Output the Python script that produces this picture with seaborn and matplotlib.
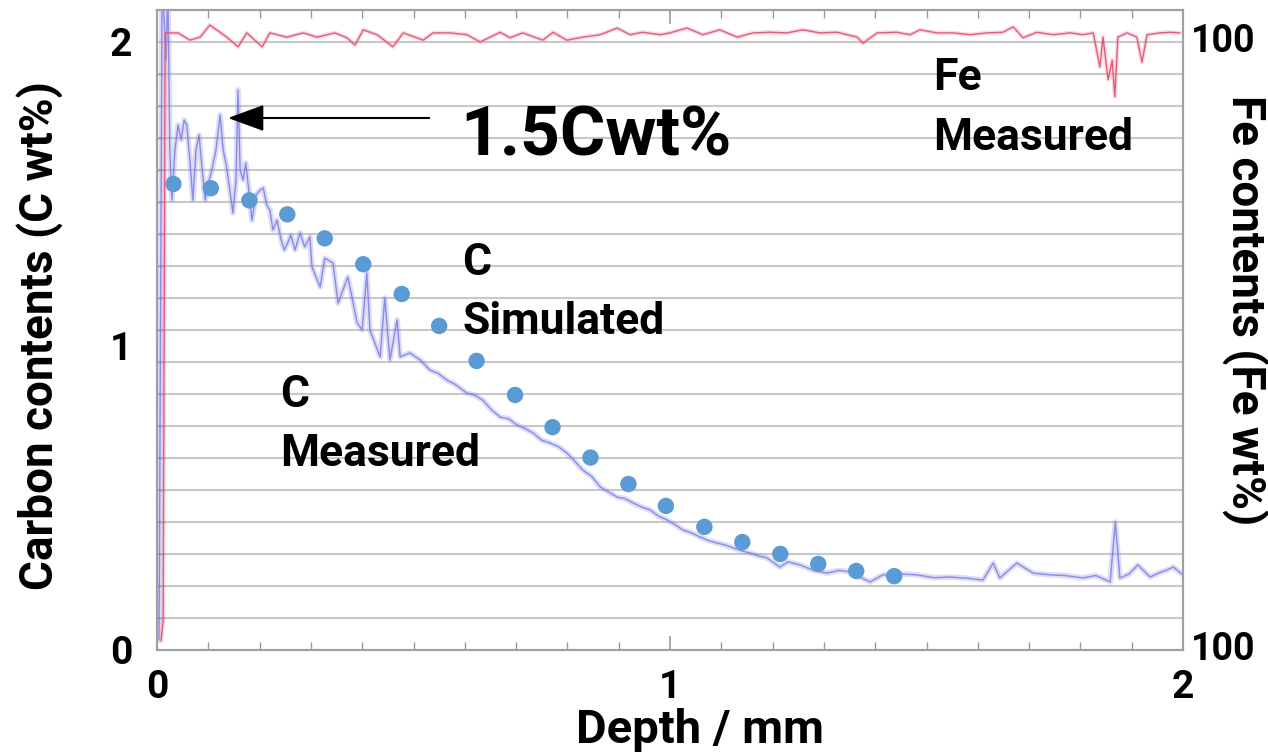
import numpy as np
import pandas as pd
import matplotlib
matplotlib.use("Agg")
import matplotlib.pyplot as plt
import seaborn as sns

# C measured (depth mm, C wt%)
c_meas_depth = [0.004, 0.010, 0.018, 0.021, 0.025, 0.029, 0.035, 0.041, 0.047, 0.053, 0.058, 0.064,
                0.070, 0.076, 0.082, 0.088, 0.094, 0.099, 0.107, 0.115, 0.123, 0.129, 0.135, 0.142,
                0.148, 0.154, 0.158, 0.162, 0.168, 0.173, 0.179, 0.185, 0.193, 0.201, 0.207, 0.214,
                0.220, 0.226, 0.234, 0.242, 0.248, 0.253, 0.261, 0.269, 0.279, 0.288, 0.298, 0.302,
                0.318, 0.327, 0.343, 0.353, 0.372, 0.380, 0.390, 0.400, 0.409, 0.415, 0.435, 0.444,
                0.454, 0.468, 0.474, 0.493, 0.513, 0.532, 0.548, 0.565, 0.580, 0.596, 0.604, 0.620,
                0.635, 0.652, 0.669, 0.686, 0.702, 0.718, 0.733, 0.750, 0.766, 0.783, 0.799, 0.815,
                0.830, 0.848, 0.864, 0.880, 0.897, 0.912, 0.928, 0.945, 0.961, 0.978, 0.994, 1.010,
                1.025, 1.042, 1.058, 1.075, 1.092, 1.108, 1.123, 1.140, 1.156, 1.172, 1.189, 1.214,
                1.230, 1.253, 1.280, 1.306, 1.330, 1.351, 1.370, 1.390, 1.415, 1.450, 1.481, 1.515,
                1.546, 1.580, 1.610, 1.630, 1.643, 1.676, 1.708, 1.741, 1.770, 1.805, 1.830, 1.858,
                1.868, 1.877, 1.895, 1.912, 1.936, 1.955, 1.969, 1.981, 2.000]
c_meas_wt = [0.033, 2.200, 1.941, 2.200, 1.645, 1.480, 1.645, 1.727, 1.678, 1.743, 1.727, 1.612,
             1.480, 1.645, 1.694, 1.579, 1.480, 1.530, 1.579, 1.645, 1.760, 1.645, 1.595, 1.513,
             1.438, 1.546, 1.842, 1.579, 1.546, 1.602, 1.513, 1.414, 1.497, 1.513, 1.520, 1.464,
             1.447, 1.382, 1.414, 1.349, 1.316, 1.332, 1.365, 1.316, 1.372, 1.326, 1.359, 1.260,
             1.194, 1.289, 1.273, 1.141, 1.227, 1.161, 1.076, 1.053, 1.240, 1.053, 0.964, 1.158,
             0.954, 1.086, 0.964, 0.977, 0.954, 0.921, 0.910, 0.888, 0.875, 0.855, 0.845, 0.838,
             0.822, 0.790, 0.766, 0.760, 0.740, 0.728, 0.714, 0.690, 0.681, 0.668, 0.648, 0.620,
             0.592, 0.570, 0.536, 0.520, 0.503, 0.498, 0.484, 0.470, 0.461, 0.440, 0.428, 0.412,
             0.395, 0.385, 0.372, 0.360, 0.352, 0.345, 0.336, 0.326, 0.319, 0.310, 0.303, 0.273,
             0.290, 0.280, 0.262, 0.253, 0.262, 0.257, 0.240, 0.224, 0.247, 0.250, 0.247, 0.238,
             0.240, 0.236, 0.230, 0.286, 0.237, 0.286, 0.253, 0.247, 0.245, 0.237, 0.245, 0.224,
             0.421, 0.237, 0.250, 0.280, 0.240, 0.255, 0.263, 0.273, 0.247]

# C simulated points
c_sim_depth = [0.032, 0.105, 0.180, 0.254, 0.327, 0.402, 0.477, 0.550, 0.623, 0.698,
               0.771, 0.845, 0.919, 0.992, 1.067, 1.141, 1.215, 1.289, 1.363, 1.437]
c_sim_wt = [1.533, 1.519, 1.479, 1.433, 1.354, 1.269, 1.171, 1.066, 0.951, 0.839,
            0.733, 0.633, 0.546, 0.474, 0.405, 0.355, 0.316, 0.283, 0.260, 0.243]

# Fe measured (depth mm, Fe wt%)
fe_depth = [0.008, 0.012, 0.016, 0.041, 0.064, 0.084, 0.103, 0.136, 0.158, 0.175, 0.205, 0.220,
            0.253, 0.285, 0.312, 0.347, 0.370, 0.386, 0.402, 0.429, 0.460, 0.480, 0.519, 0.538,
            0.571, 0.604, 0.630, 0.669, 0.688, 0.713, 0.752, 0.772, 0.799, 0.830, 0.864, 0.897,
            0.922, 0.947, 0.981, 1.000, 1.033, 1.064, 1.097, 1.131, 1.162, 1.195, 1.228, 1.259,
            1.292, 1.326, 1.365, 1.376, 1.404, 1.442, 1.468, 1.487, 1.520, 1.552, 1.585, 1.618,
            1.649, 1.669, 1.688, 1.715, 1.747, 1.780, 1.805, 1.825, 1.838, 1.844, 1.854, 1.862,
            1.867, 1.873, 1.891, 1.910, 1.920, 1.930, 1.955, 1.975, 1.994]
fe_wt = [1.5, 4.9, 101.5, 101.5, 100.3, 100.8, 102.8, 100.8, 99.2, 101.5, 99.2, 101.5,
         100.8, 101.5, 100.8, 101.5, 100.7, 99.5, 102.0, 101.2, 99.2, 101.5, 100.3, 101.5,
         101.5, 101.2, 100.0, 101.6, 100.7, 101.5, 100.3, 101.6, 100.3, 100.8, 101.2, 102.3,
         101.2, 101.6, 101.2, 101.5, 102.3, 101.2, 102.0, 100.8, 101.5, 101.6, 101.5, 102.0,
         101.5, 101.6, 100.8, 99.8, 101.5, 101.6, 101.2, 102.0, 101.5, 101.5, 101.2, 101.5,
         101.6, 102.5, 100.7, 101.6, 101.2, 101.5, 101.2, 101.5, 95.9, 100.8, 93.8, 97.0,
         91.0, 100.8, 101.5, 100.8, 96.7, 101.2, 101.5, 101.6, 101.5]

c_meas = pd.DataFrame({"depth": c_meas_depth, "C": c_meas_wt})
c_sim = pd.DataFrame({"depth": c_sim_depth, "C": c_sim_wt})
fe_meas = pd.DataFrame({"depth": fe_depth, "Fe": fe_wt})

sns.set_style("white")
plt.rcParams["font.family"] = ["Roboto", "DejaVu Sans"]
plt.rcParams["font.weight"] = "bold"
plt.rcParams["text.color"] = "black"
plt.rcParams["axes.labelcolor"] = "black"
plt.rcParams["xtick.color"] = "black"
plt.rcParams["ytick.color"] = "black"

fig = plt.figure(figsize=(12.68, 7.55), dpi=100)
ax = fig.add_axes([157 / 1268, 105 / 755, 1026 / 1268, 640 / 755])

ytop = 2 + 2 / 19
grid_levels = [k * 2 / 19 for k in range(1, 20)]
for g in grid_levels:
    ax.axhline(g, color="#c8c8c8", lw=1.5, zorder=0)

# C measured: soft band plus thin core
sns.lineplot(data=c_meas, x="depth", y="C", ax=ax, sort=False, color="#9a9af2",
             lw=4.0, alpha=0.35, estimator=None)
sns.lineplot(data=c_meas, x="depth", y="C", ax=ax, sort=False, color="#7070dc",
             lw=1.0, alpha=0.75, estimator=None)

sns.scatterplot(data=c_sim, x="depth", y="C", ax=ax, color="#5b9bd5", s=140,
                edgecolor="none", zorder=5)

ax.set_xlim(0, 2)
ax.set_ylim(0, ytop)

ax2 = ax.twinx()
sns.lineplot(data=fe_meas, x="depth", y="Fe", ax=ax2, sort=False, color="#f4a0b4",
             lw=3.0, alpha=0.4, estimator=None)
sns.lineplot(data=fe_meas, x="depth", y="Fe", ax=ax2, sort=False, color="#e0506c",
             lw=1.0, alpha=0.9, estimator=None)
ax2.set_ylim(0, 100 * ytop / 2)
ax2.set_yticks([0.8, 100.7])
ax2.set_yticklabels(["100", "100"], fontsize=27, fontweight="bold")
ax2.tick_params(axis="y", length=0, pad=6, right=True, labelright=True)
ax2.set_ylabel("")

# ticks
ax.set_xticks([0, 1, 2])
ax.set_xticklabels(["0", "1", "2"], fontsize=28, fontweight="bold")
ax.set_xticks(np.arange(0.1, 2.0, 0.1), minor=True)
ax.tick_params(axis="x", which="major", direction="in", length=10, width=1.2,
               color="#999999", bottom=True, top=True, pad=14)
ax.tick_params(axis="x", which="minor", direction="in", length=6, width=1.0,
               color="#999999", bottom=True, top=True)
ax.set_yticks([0, 1, 2])
ax.set_yticklabels(["0", "1", "2"], fontsize=28, fontweight="bold")
ax.set_yticks(grid_levels, minor=True)
ax.tick_params(axis="y", which="major", length=0, pad=18, left=True)
ax.tick_params(axis="y", which="minor", direction="in", length=6, width=1.0,
               color="#999999", left=True)

for a in (ax, ax2):
    for s in a.spines.values():
        s.set_color("#a0a0a0")
        s.set_linewidth(1.5)

ax.set_xlabel("Depth / mm", fontsize=34, fontweight="bold")
ax.xaxis.set_label_coords(0.529, -0.125)
ax.xaxis.label.set_va("center")
ax.set_ylabel("Carbon contents (C wt%)", fontsize=33, fontweight="bold")
ax.yaxis.set_label_coords(-0.114, 0.492)
ax.yaxis.label.set_va("center")
ax2.set_ylabel("Fe contents (Fe wt%)", fontsize=33, fontweight="bold", rotation=-90)
ax2.yaxis.set_label_coords(1.060, 0.531)
ax2.yaxis.label.set_va("center")

# labels inside the plot
txt = dict(fontsize=32, fontweight="bold", color="black", ha="left", va="baseline")
ax.text(1.513, 1.842, "Fe", **txt)
ax.text(1.513, 1.645, "Measured", **txt)
ax.text(0.595, 1.234, "C", **txt)
ax.text(0.595, 1.039, "Simulated", **txt)
ax.text(0.240, 0.799, "C", **txt)
ax.text(0.240, 0.605, "Measured", **txt)
ax.text(0.591, 1.628, "1.5Cwt%", fontsize=50, fontweight="bold", color="black",
        ha="left", va="baseline")
ax.annotate("", xy=(0.133, 1.750), xytext=(0.536, 1.750),
            arrowprops=dict(arrowstyle="-|>,head_length=1.5,head_width=0.55",
                            mutation_scale=15, color="black", lw=1.5))

plt.savefig("out.png", dpi=100)
